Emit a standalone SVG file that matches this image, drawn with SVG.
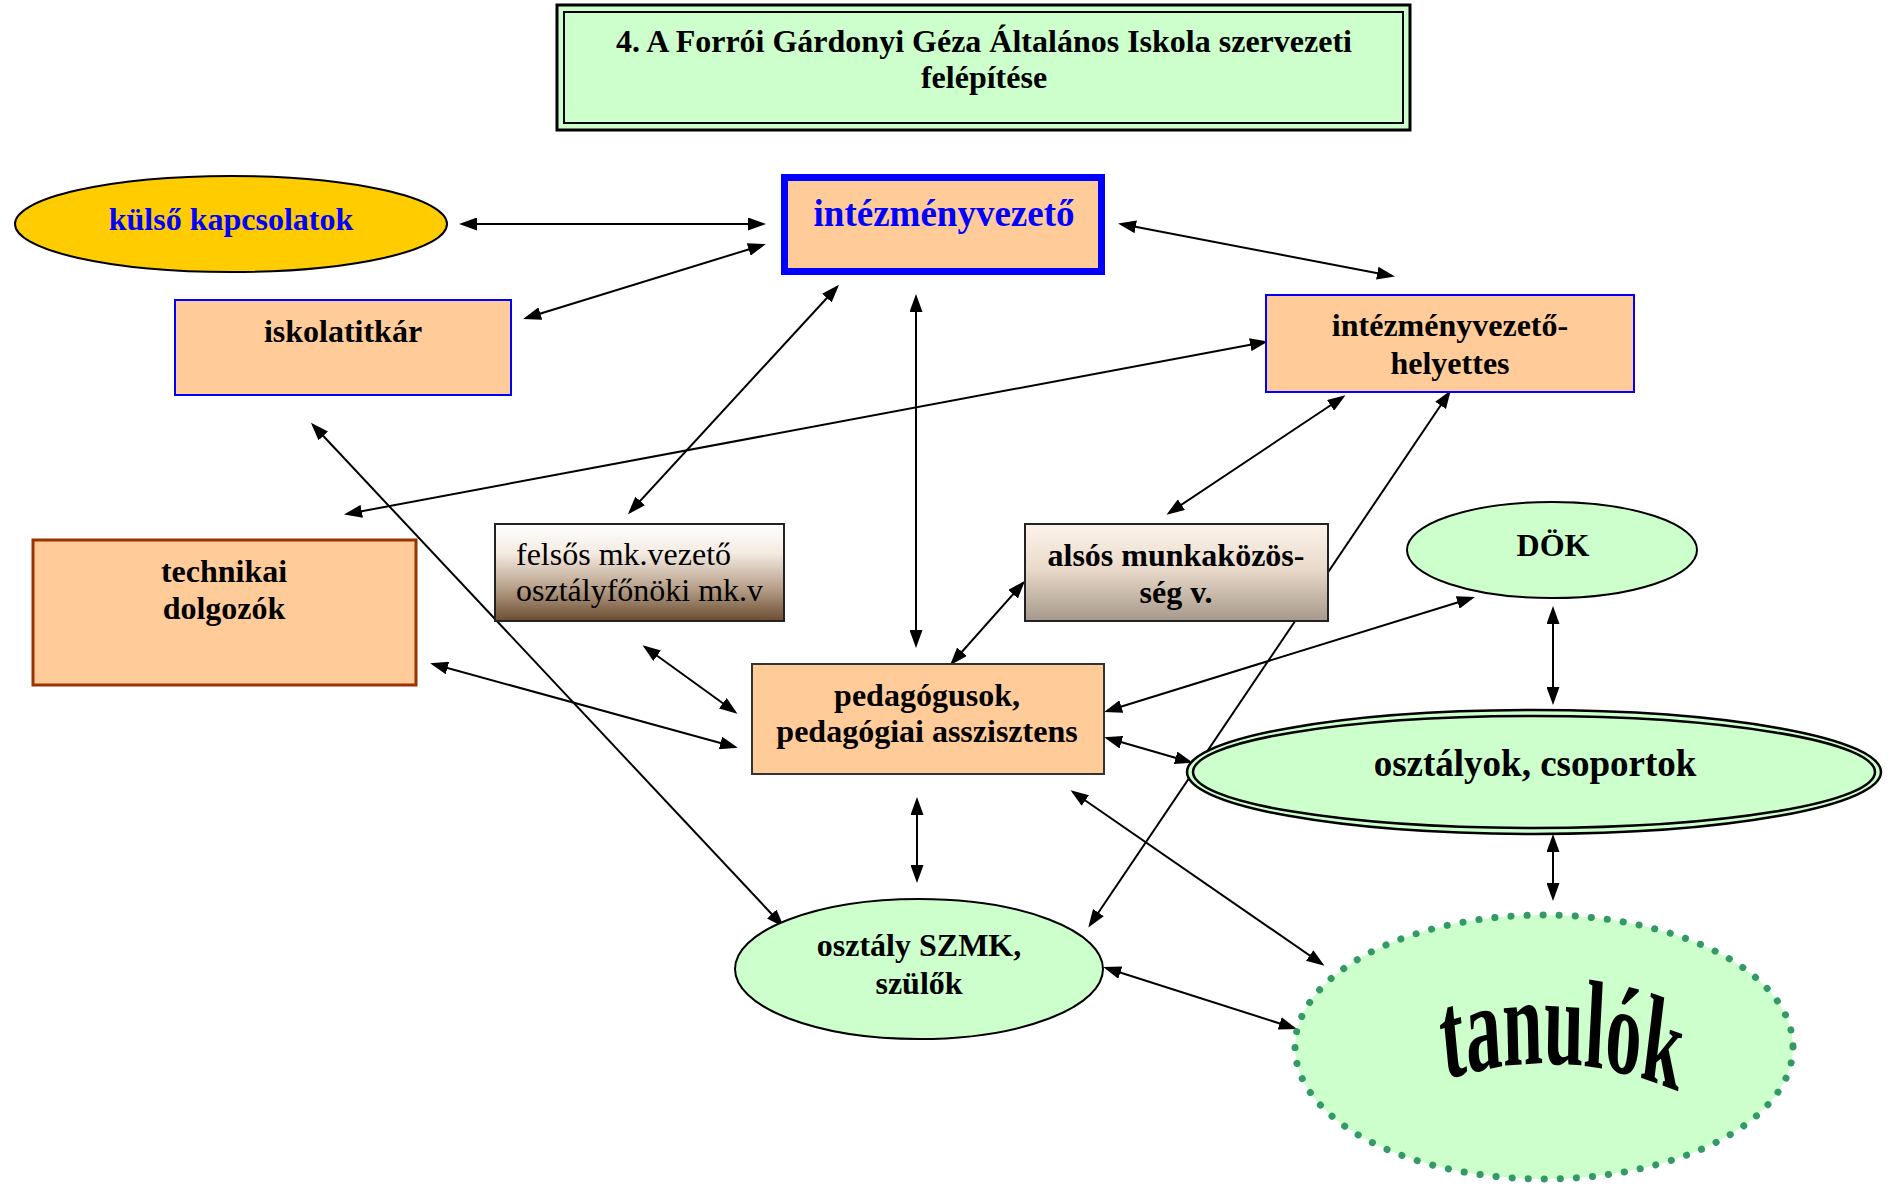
<svg xmlns="http://www.w3.org/2000/svg" width="1890" height="1186" viewBox="0 0 1890 1186">
<defs>
<style>
.t{font-family:"Liberation Serif","Times New Roman",serif;font-weight:bold;font-size:32px;fill:#000;text-anchor:middle}
.n{font-family:"Liberation Serif","Times New Roman",serif;font-size:32px;fill:#000}
.c line{stroke:#000;stroke-width:2;marker-start:url(#ah);marker-end:url(#ah)}
.orange{fill:#FFCC99}
.green{fill:#CCFFCC}
</style>
<marker id="ah" markerUnits="userSpaceOnUse" markerWidth="18" markerHeight="13" refX="15" refY="6.5" orient="auto-start-reverse">
<path d="M0,0 L18,6.5 L0,13 z" fill="#000"/>
</marker>
<linearGradient id="gFel" x1="0" y1="0" x2="0" y2="1">
<stop offset="0" stop-color="#ffffff"/>
<stop offset="0.3" stop-color="#f4ebe2"/>
<stop offset="0.65" stop-color="#b9a28c"/>
<stop offset="1" stop-color="#6b4d31"/>
</linearGradient>
<linearGradient id="gAls" x1="0" y1="0" x2="0" y2="1">
<stop offset="0" stop-color="#fdf3ea"/>
<stop offset="0.45" stop-color="#eadbcc"/>
<stop offset="1" stop-color="#a6988a"/>
</linearGradient>
</defs>
<rect width="1890" height="1186" fill="#fff"/>

<g class="c" id="connectors">
<line x1="462" y1="224" x2="763" y2="224"/>
<line x1="526" y1="318" x2="763" y2="245"/>
<line x1="1121" y1="224" x2="1392" y2="276"/>
<line x1="347" y1="514" x2="1265" y2="342"/>
<line x1="837" y1="287" x2="630" y2="512"/>
<line x1="916" y1="297" x2="916" y2="645"/>
<line x1="1343" y1="397" x2="1169" y2="513"/>
<line x1="1449" y1="393" x2="1090" y2="925"/>
<line x1="313" y1="425" x2="782" y2="925"/>
<line x1="1023" y1="583" x2="952" y2="663"/>
<line x1="645" y1="647" x2="735" y2="712"/>
<line x1="433" y1="664" x2="735" y2="747"/>
<line x1="1107" y1="711" x2="1472" y2="598"/>
<line x1="1553" y1="609" x2="1553" y2="702"/>
<line x1="1107" y1="738" x2="1190" y2="762"/>
<line x1="1073" y1="792" x2="1322" y2="964"/>
<line x1="917" y1="800" x2="917" y2="880"/>
<line x1="1553" y1="837" x2="1553" y2="898"/>
<line x1="1106" y1="968" x2="1294" y2="1028"/>
</g>

<g id="title">
<rect x="557" y="5" width="853" height="125" fill="#CCFFCC" stroke="#000" stroke-width="3"/>
<rect x="564" y="12" width="839" height="111" fill="none" stroke="#000" stroke-width="2"/>
<text class="t" x="984" y="52">4. A Forrói Gárdonyi Géza Általános Iskola szervezeti</text>
<text class="t" x="984" y="88">felépítése</text>
</g>

<g id="kulso">
<ellipse cx="231" cy="224" rx="216" ry="48" fill="#FFCC00" stroke="#000" stroke-width="2"/>
<text class="t" x="231" y="230" style="fill:#0000FF">külső kapcsolatok</text>
</g>

<g id="intezmenyvezeto">
<rect x="784.5" y="177.5" width="317" height="94" class="orange" stroke="#0000FF" stroke-width="7"/>
<text class="t" x="944" y="226" style="fill:#0000FF;font-size:37px">intézményvezető</text>
</g>

<g id="iskolatitkar">
<rect x="175" y="300" width="336" height="95" class="orange" stroke="#0000FF" stroke-width="2"/>
<text class="t" x="343" y="342">iskolatitkár</text>
</g>

<g id="helyettes">
<rect x="1266" y="295" width="368" height="97" class="orange" stroke="#0000FF" stroke-width="2"/>
<text class="t" x="1450" y="336">intézményvezető-</text>
<text class="t" x="1450" y="374">helyettes</text>
</g>

<g id="technikai">
<rect x="33" y="540" width="383" height="145" class="orange" stroke="#993300" stroke-width="3"/>
<text class="t" x="224" y="582">technikai</text>
<text class="t" x="224" y="619">dolgozók</text>
</g>

<g id="felsos">
<rect x="495" y="524" width="289" height="97" fill="url(#gFel)" stroke="#222" stroke-width="2"/>
<text class="n" x="516" y="565">felsős mk.vezető</text>
<text class="n" x="516" y="601">osztályfőnöki mk.v</text>
</g>

<g id="alsos">
<rect x="1025" y="524" width="303" height="97" fill="url(#gAls)" stroke="#222" stroke-width="2"/>
<text class="t" x="1176" y="566">alsós munkaközös-</text>
<text class="t" x="1176" y="603">ség v.</text>
</g>

<g id="dok">
<ellipse cx="1552" cy="550" rx="145" ry="48" class="green" stroke="#000" stroke-width="2"/>
<text class="t" x="1553" y="556">DÖK</text>
</g>

<g id="pedagogusok">
<rect x="752" y="664" width="352" height="110" class="orange" stroke="#333" stroke-width="2"/>
<text class="t" x="927" y="706">pedagógusok,</text>
<text class="t" x="927" y="742">pedagógiai asszisztens</text>
</g>

<g id="osztalyok">
<ellipse cx="1534" cy="772" rx="347" ry="62" class="green" stroke="#000" stroke-width="2.5"/>
<ellipse cx="1534" cy="772" rx="341" ry="56" fill="none" stroke="#000" stroke-width="2.5"/>
<text class="t" x="1535" y="776" style="font-size:37px">osztályok, csoportok</text>
</g>

<g id="szmk">
<ellipse cx="919" cy="969" rx="184" ry="70" class="green" stroke="#000" stroke-width="2"/>
<text class="t" x="919" y="956">osztály SZMK,</text>
<text class="t" x="919" y="994">szülők</text>
</g>

<g id="tanulok">
<ellipse cx="1544" cy="1047" rx="249" ry="132" class="green" stroke="#339966" stroke-width="7" stroke-dasharray="0.1 16" stroke-linecap="round"/>
<path id="tp" d="M1349,1082 Q1561,1040 1773,1094" fill="none"/>
<g transform="translate(1561,0) scale(0.576,1) translate(-1561,0)">
<text style="font-family:'Liberation Serif','Times New Roman',serif;font-weight:bold;font-size:125px;fill:#000;text-anchor:middle"><textPath href="#tp" startOffset="50%">tanulók</textPath></text>
</g>
</g>
</svg>
